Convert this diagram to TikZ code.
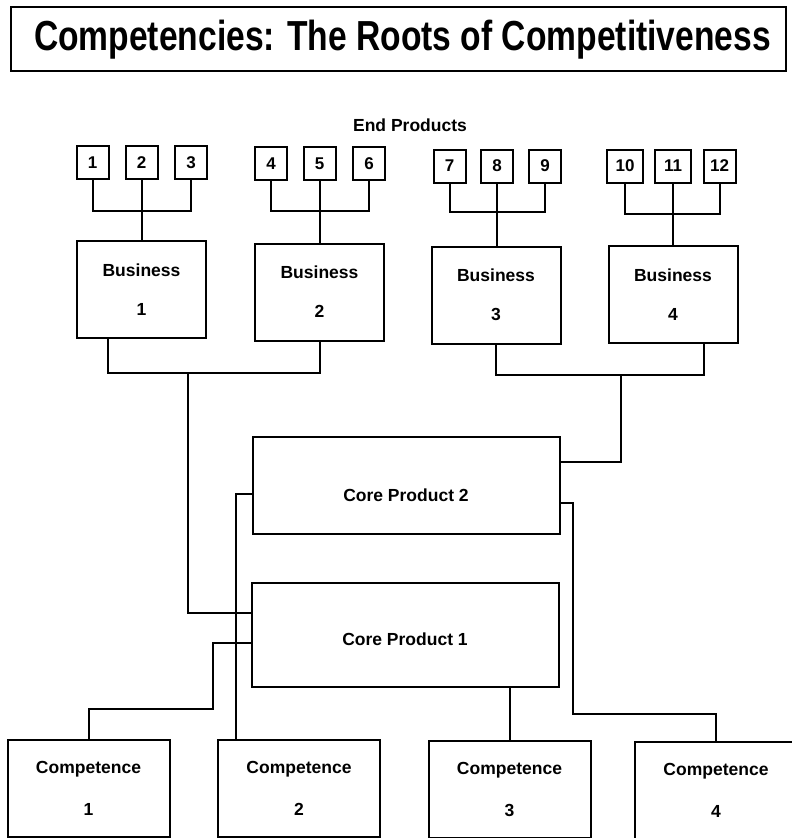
\documentclass[tikz,border=0pt]{standalone}
\usepackage{fontspec}
\usepackage{graphicx}
\setmainfont{Liberation Sans}
\usetikzlibrary{calc}
\begin{document}
\begin{tikzpicture}[x=1pt,y=-1pt,
  frame/.style={draw, line width=2pt, inner sep=0pt, line join=miter},
  wire/.style={line width=2pt, line join=miter},
  numbox/.style={frame, minimum width=32pt, minimum height=33pt,
    font=\bfseries\fontsize{17}{17}\selectfont},
  bizbox/.style={frame, minimum width=129pt, minimum height=97pt, align=center,
    font=\bfseries\fontsize{17.5}{39}\selectfont},
  corelabel/.style={font=\bfseries\fontsize{17.5}{17.5}\selectfont},
  corebox/.style={frame, minimum width=307pt},
  compbox/.style={frame, minimum width=162pt, minimum height=97pt, align=center,
    font=\bfseries\fontsize{17.5}{42}\selectfont}
]
\useasboundingbox[fill=white] (0,0) rectangle (792,838);

% title banner
\node[frame, line width=2.2pt, minimum width=775pt, minimum height=64pt] (ttl) at (398.5,39) {};
\node[anchor=base, inner sep=0pt, font=\bfseries\fontsize{42}{42}\selectfont] (ttltext) at (402.5,50)
  {\scalebox{0.8}[1]{Competencies: The Roots of Competitiveness}};

\node[font=\bfseries\fontsize{17.5}{17.5}\selectfont] (ep) at (410,125) {End Products};

% end products
\node[numbox] (s1)  at (92.5,162.5)  {1};
\node[numbox] (s2)  at (141.5,162.5) {2};
\node[numbox] (s3)  at (191,162.5)   {3};
\node[numbox] (s4)  at (271,163.5)   {4};
\node[numbox] (s5)  at (319.5,163.5) {5};
\node[numbox] (s6)  at (369,163.5)   {6};
\node[numbox] (s7)  at (449.5,166)   {7};
\node[numbox] (s8)  at (497,166)     {8};
\node[numbox] (s9)  at (545,166)     {9};
\node[numbox, minimum width=36pt] (s10) at (625,166)   {10};
\node[numbox, minimum width=36pt] (s11) at (673,166)   {11};
\node[numbox] (s12) at (719.5,166)   {12};

% businesses
\node[bizbox] (b1) at (141.5,289.5) {Business\\1};
\node[bizbox] (b2) at (319.5,292)   {Business\\2};
\node[bizbox] (b3) at (496,295)     {Business\\3};
\node[bizbox] (b4) at (673,294.5)   {Business\\4};

% core products
\node[corebox, minimum height=97pt, label={[yshift=-9.5pt, corelabel]center:Core Product 2}] (cp2) at (406,485.5) {};
\node[corebox, minimum height=104pt, label={[yshift=-4pt, corelabel]center:Core Product 1}] (cp1) at (405,635) {};

% competences
\node[compbox] (c1) at (88.5,788.5)  {Competence\\1};
\node[compbox] (c2) at (299,788.5)   {Competence\\2};
\node[compbox] (c3) at (509.5,789.5) {Competence\\3};
\node[compbox] (c4) at (716,790.5)   {Competence\\4};

% end products to businesses
\coordinate (j1) at (141.5,211);
\coordinate (j2) at (319.5,211);
\coordinate (j3) at (497,212);
\coordinate (j4) at (673,214);
\draw[wire] (s1.south) |- (j1) -| (s3.south);
\draw[wire] (s2.south) -- (s2.south |- b1.north);
\draw[wire] (s4.south) |- (j2) -| (s6.south);
\draw[wire] (s5.south) -- (s5.south |- b2.north);
\draw[wire] (s7.south) |- (j3) -| (s9.south);
\draw[wire] (s8.south) -- (s8.south |- b3.north);
\draw[wire] (s10.south) |- (j4) -| (s12.south);
\draw[wire] (s11.south) -- (s11.south |- b4.north);

% businesses to core products
\coordinate (k1) at (188,373);
\coordinate (k2) at (621,375);
\draw[wire] ([xshift=-33.5pt]b1.south) |- (k1) -| (b2.south);
\draw[wire] (k1) |- ([yshift=22pt]cp1.west);
\draw[wire] (b3.south) |- (k2) -| ([xshift=31pt]b4.south);
\draw[wire] (k2) |- ([yshift=23.5pt]cp2.east);

% core products to competences
\coordinate (m1) at (213,709);
\coordinate (m4) at (573,714);
\draw[wire] ([yshift=-8.5pt]cp2.west) -| ([xshift=19pt]c2.north west);
\draw[wire] ([yshift=-8pt]cp1.west) -| (m1) -| (c1.north);
\draw[wire] (c3.north) -- (c3.north |- cp1.south);
\draw[wire] ([yshift=-17.5pt]cp2.east) -| (m4) -| (c4.north);
\end{tikzpicture}
\end{document}
